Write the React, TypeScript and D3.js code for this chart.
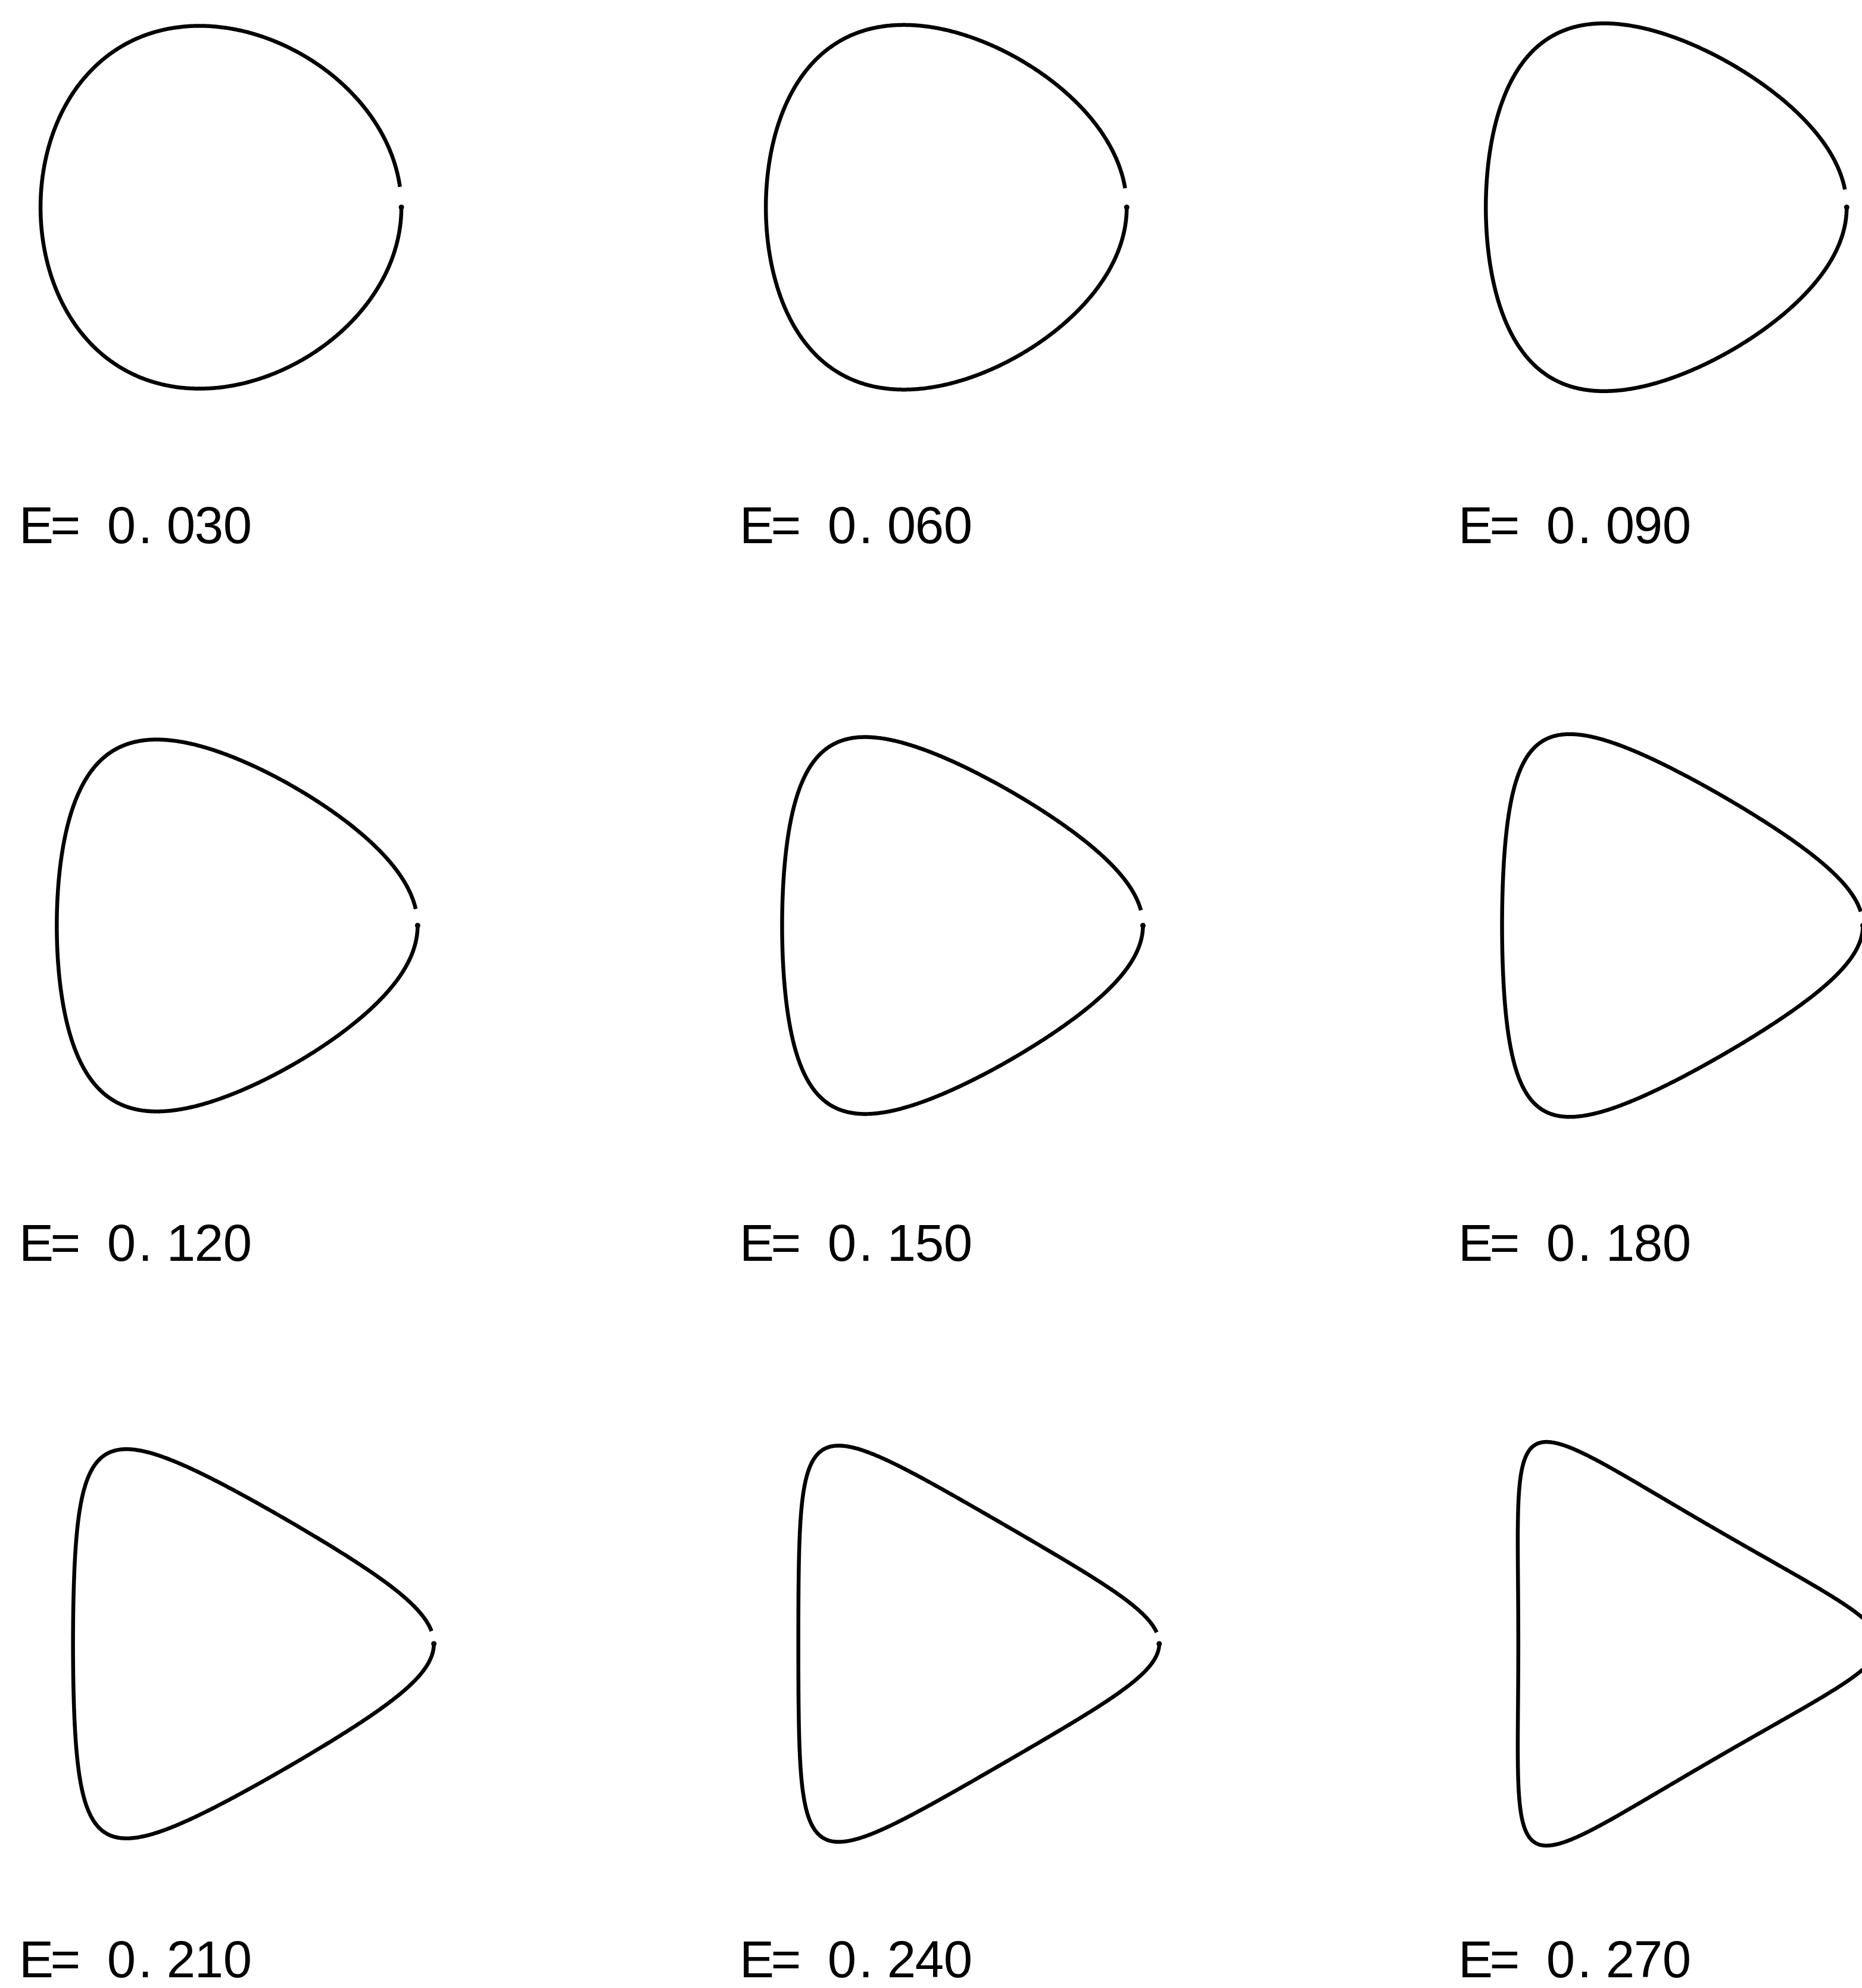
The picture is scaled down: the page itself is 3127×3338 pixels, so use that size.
import React from "react";
import * as d3 from "d3";

const W = 3127;
const H = 3338;

// Deformation parameter E of each panel, read row by row.
const eValues = [0.03, 0.06, 0.09, 0.12, 0.15, 0.18, 0.21, 0.24, 0.27];
const labelPrefix = "E= ";
const formatE = d3.format(".3f");

// Grid layout (pixels)
const columnCenters = [362, 1571, 2771];
const rowCenters = [348, 1554, 2760];
const labelBaselines = [912, 2117, 3320];
const labelCenters = [61, 1271, 2478]; // centre of the first character
const charOffsets = [0, 49, 97, 143, 183, 243, 290, 338];
const unitX = 303; // pixels per unit of the undeformed radius, horizontally
const unitY = 304; // and vertically
const penGap = 0.12; // radians left open where the pen starts/ends

// Boundary z = w + E * conj(w)^2 traced over the unit circle |w| = 1
function boundary(e: number): [number, number][] {
  const n = 900;
  return d3.range(n + 1).map((i) => {
    const t = penGap + ((2 * Math.PI - penGap) * i) / n;
    return [Math.cos(t) + e * Math.cos(2 * t), Math.sin(t) - e * Math.sin(2 * t)];
  });
}

function Panel({ e, index }: { e: number; index: number }) {
  const col = index % 3;
  const row = Math.floor(index / 3);
  const cx = columnCenters[col];
  const cy = rowCenters[row];
  const x = d3.scaleLinear().domain([-1, 1]).range([cx - unitX, cx + unitX]);
  const y = d3.scaleLinear().domain([-1, 1]).range([cy + unitY, cy - unitY]);
  const line = d3
    .line<[number, number]>()
    .x((d) => x(d[0]))
    .y((d) => y(d[1]));
  const pts = boundary(e);
  const end = pts[pts.length - 1];
  const label = labelPrefix + formatE(e);
  const xs = label
    .split("")
    .map((_, i) => labelCenters[col] + charOffsets[i])
    .join(" ");
  return (
    <g>
      <path
        d={line(pts) ?? ""}
        fill="none"
        stroke="#000"
        strokeWidth={6.5}
        strokeLinejoin="round"
        strokeLinecap="butt"
      />
      {/* pen-down blot where the trace closes at the vertex */}
      <circle cx={x(end[0])} cy={y(end[1])} r={4.5} fill="#000" />
      <text
        x={xs}
        y={labelBaselines[row]}
        textAnchor="middle"
        fontFamily="'Liberation Sans', Arial, sans-serif"
        fontSize={87}
        fill="#000"
        xmlSpace="preserve"
      >
        {label}
      </text>
    </g>
  );
}

export default function App() {
  return (
    <svg
      width={W}
      height={H}
      viewBox={`0 0 ${W} ${H}`}
      style={{ position: "absolute", left: 0, top: 0, background: "#fff" }}
    >
      <rect width={W} height={H} fill="#fff" />
      {eValues.map((e, i) => (
        <Panel key={i} e={e} index={i} />
      ))}
    </svg>
  );
}
